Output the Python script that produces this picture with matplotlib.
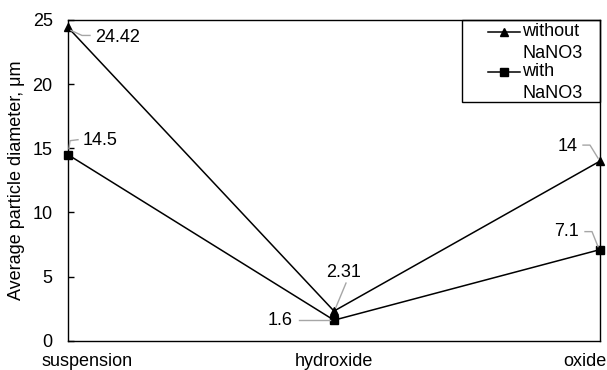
"""Average particle diameter across processing stages, with and without NaNO3."""

import matplotlib
matplotlib.use("Agg")
import matplotlib.pyplot as plt
from matplotlib.lines import Line2D
from matplotlib.patches import Rectangle

stages = ["suspension", "hydroxide", "oxide"]
without_nano3 = [24.42, 2.31, 14]
with_nano3 = [14.5, 1.6, 7.1]
series_names = ["without\nNaNO3", "with\nNaNO3"]
yticks = [0, 5, 10, 15, 20, 25]

# label placement per point: (text dx, text dy, ha, leader polyline) in pixels
without_labels = [
    (27, -10, "left", [(3, -3), (14, -8), (22, -8)]),
    (10, 39, "center", [(12, 28), (2, 4)]),
    (-22, 15, "right", [(-17, 16), (-10, 16), (-2, 3)]),
]
with_labels = [
    (15, 14, "left", [(1, 6), (2, 14), (10, 15)]),
    (-41, 0, "right", [(-35, 0), (-4, 0)]),
    (-21, 18, "right", [(-15, 18), (-8, 18), (-2, 3)]),
]

FS = 13
plt.rcParams["font.family"] = ["Liberation Sans", "DejaVu Sans"]
plt.rcParams["font.size"] = FS

W, H = 607, 370
fig = plt.figure(figsize=(W / 100, H / 100), dpi=100)
ax = fig.add_axes([68 / W, 1 - 340.7 / H, 532 / W, 320.7 / H])

x = list(range(len(stages)))
styles = [dict(marker="^", ms=6), dict(marker="s", ms=5.5)]
for vals, st in zip([without_nano3, with_nano3], styles):
    ax.plot(x, vals, "-", color="black", lw=1.1, clip_on=False, zorder=3, **st)

ax.set_xlim(0, 2)
ax.set_ylim(0, 25)
ax.set_yticks(yticks)
ax.set_xticks([])
ax.tick_params(axis="y", direction="in", length=4, width=1, pad=11, labelsize=FS)
for s in ax.spines.values():
    s.set_linewidth(1.0)
fig.text(17 / W, 1 - 180 / H, "Average particle diameter, μm", rotation=90,
         ha="center", va="center", fontsize=FS)

# category labels under the axis; outer ones pulled inward to stay on the canvas
xt = ax.get_xaxis_transform()
ax.text(-0.1015, -0.079, stages[0], transform=xt, ha="left", va="baseline")
ax.text(1, -0.079, stages[1], transform=xt, ha="center", va="baseline")
ax.text(2.026, -0.079, stages[2], transform=xt, ha="right", va="baseline")


def label_points(vals, specs):
    for xi, v, (tx, ty, ha, leader) in zip(x, vals, specs):
        px, py = ax.transData.transform((xi, v))
        xs = [px + dx for dx, dy in leader]
        ys = [py + dy for dx, dy in leader]
        fig.add_artist(Line2D(xs, ys, transform=None, color="#a6a6a6", lw=1.0))
        ax.annotate(f"{v:g}", (xi, v), xytext=(tx, ty), textcoords="offset pixels",
                    ha=ha, va="center", fontsize=FS, annotation_clip=False)


label_points(without_nano3, without_labels)
label_points(with_nano3, with_labels)

# legend: fixed box, handle beside the first line of each two-line name
fig.add_artist(Rectangle((462, H - 102), 138, 82, transform=None, fill=False,
                         edgecolor="black", lw=1.0, zorder=4))
for i, (name, st) in enumerate(zip(series_names, styles)):
    y0 = H - (32 + 40 * i)
    fig.add_artist(Line2D([488, 520], [y0, y0], transform=None, color="black", lw=1.1,
                          zorder=5))
    fig.add_artist(Line2D([504], [y0], transform=None, color="black", ls="none",
                          zorder=5, **st))
    for j, line in enumerate(name.split("\n")):
        fig.text(522 / W, (y0 - 21.5 * j) / H, line, ha="left", va="center", fontsize=FS)

fig.savefig("out.png", dpi=100)
